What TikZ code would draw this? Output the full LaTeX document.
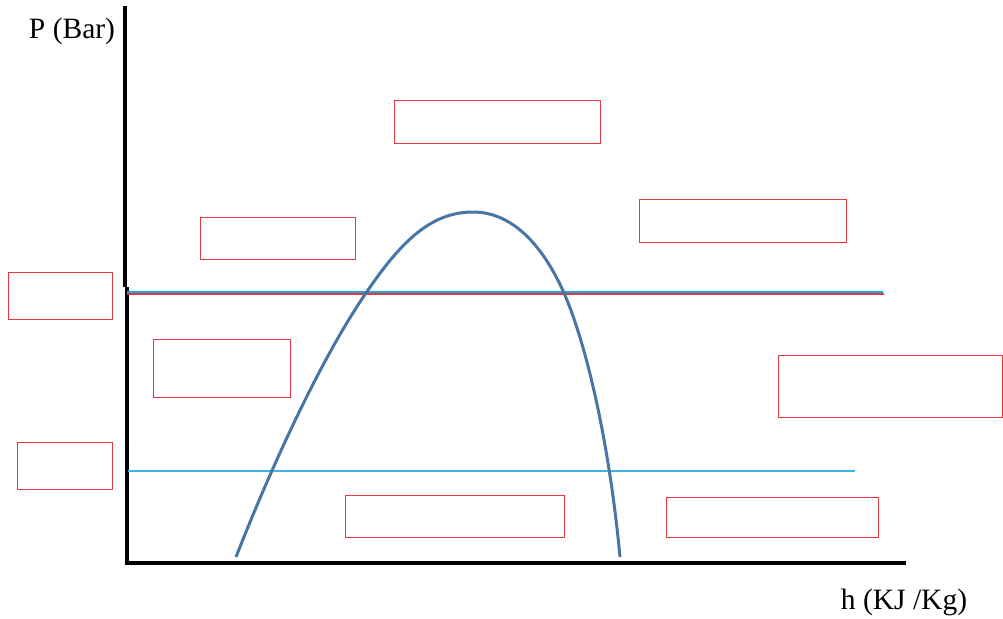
\documentclass[tikz,border=0pt]{standalone}
\usepackage{fontspec}
\setmainfont{Liberation Serif}
\usepackage{tikz}
\usetikzlibrary{positioning}
\definecolor{chart-red}{HTML}{E8383D}
\definecolor{chart-blue}{HTML}{1AA6E2}
\definecolor{chart-lightblue}{HTML}{3DB4E6}
\definecolor{chart-curve}{HTML}{4776A6}

\begin{document}
\begin{tikzpicture}[
    x=1pt, y=-1pt,
    emptybox/.style={draw=chart-red, line width=1.4pt, fill=white, inner sep=0pt, anchor=north west},
    axis/.style={line width=4pt, black},
    axislabel/.style={font=\fontsize{29.5}{34}\selectfont, anchor=base, inner sep=0pt}
]
    \useasboundingbox (0,0) rectangle (1003,618);

    % axes
    \coordinate (ytop) at (124.7,6);
    \coordinate (ymid) at (124.7,287);
    \coordinate (ymid2) at (126.7,287);
    \coordinate (origin) at (126.7,565);
    \coordinate (xend) at (906,563);
    \draw [axis] (ytop) -- (ymid);
    \draw [axis] (ymid2) -- (origin);
    \draw [axis] (124.5,563) -- (xend);

    \node (plabel) [axislabel] at (72,39) {P (Bar)};
    \node (hlabel) [axislabel] at (904,609) {h (KJ /Kg)};

    % pressure lines
    \draw [chart-red, line width=2.4pt] (127,294) -- (884,294);
    \draw [chart-blue, line width=2.2pt] (127,291.8) -- (883,291.8);
    \draw [chart-lightblue, line width=2pt] (128,471) -- (855,471);

    % saturation dome
    \draw [chart-curve, line width=3pt]
        (236,557) .. controls (270,470) and (320,360) .. (366,293)
        .. controls (400,243) and (430,212) .. (473,212)
        .. controls (515,212) and (545,250) .. (564,293)
        .. controls (583,336) and (608,430) .. (620,557);

    % label boxes
    \node (top) [emptybox, minimum width=206pt, minimum height=43pt] at (394,100) {};
    \node (vapour) [emptybox, minimum width=155pt, minimum height=42pt] at (200,217) {};
    \node (superheat) [emptybox, minimum width=207pt, minimum height=43pt] at (639,199) {};
    \node (highp) [emptybox, minimum width=104pt, minimum height=47pt] at (8,272) {};
    \node (liquid) [emptybox, minimum width=137pt, minimum height=58pt] at (153,339) {};
    \node (rightside) [emptybox, minimum width=224pt, minimum height=62pt] at (778,355) {};
    \node (lowp) [emptybox, minimum width=95pt, minimum height=47pt] at (17,442) {};
    \node (mixture) [emptybox, minimum width=219pt, minimum height=42pt] at (345,495) {};
    \node (gas) [emptybox, minimum width=212pt, minimum height=40pt] at (666,497) {};
\end{tikzpicture}
\end{document}
